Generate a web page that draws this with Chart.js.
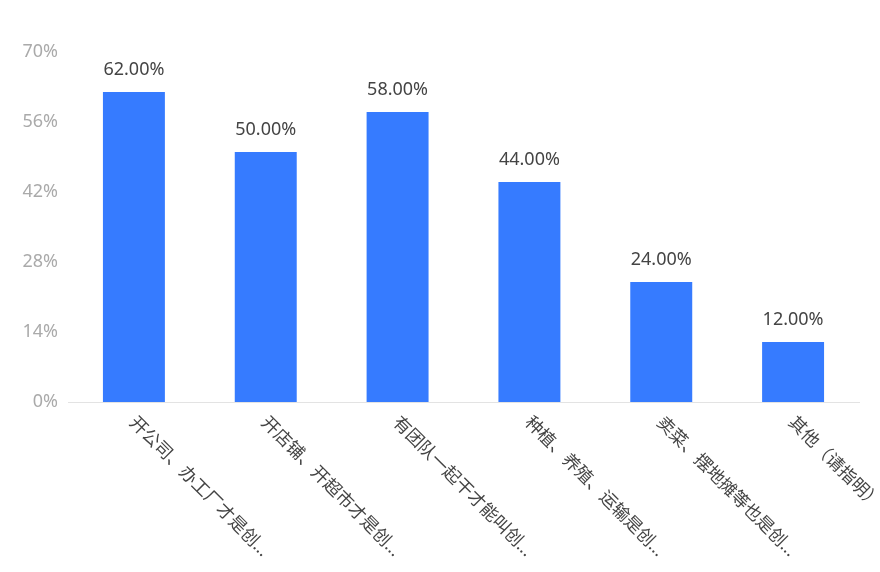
<!DOCTYPE html>
<html>
<head>
<meta charset="utf-8">
<script src="https://cdn.jsdelivr.net/npm/chart.js@4"></script>
<style>
  html, body { margin: 0; padding: 0; background: #fff; }
  #wrap { width: 880px; height: 572px; }
</style>
</head>
<body>
<div id="wrap"><canvas id="barChart"></canvas></div>
<script>
const categories = ['开公司、办工厂才是创...', '开店铺、开超市才是创...', '有团队一起干才能叫创...', '种植、养殖、运输是创...', '卖菜、摆地摊等也是创...', '其他（请指明）'];
const shares = [62, 50, 58, 44, 24, 12];
const yTicks = [0, 14, 28, 42, 56, 70];

const fontFamily = '"Noto Sans", "Noto Sans CJK SC", sans-serif';

// etiquetas do eixo x giradas 45° para baixo/direita
const slantLabels = {
    id: 'slantLabels',
    afterDraw(chart) {
        const ctx = chart.ctx;
        const x = chart.scales.x;
        const base = chart.chartArea.bottom;
        ctx.save();
        ctx.font = '17.5px ' + fontFamily;
        ctx.fillStyle = '#444';
        ctx.textAlign = 'left';
        ctx.textBaseline = 'middle';
        categories.forEach((c, i) => {
            ctx.save();
            ctx.translate(x.getPixelForValue(i) - 2, base + 18);
            ctx.rotate(Math.PI / 4);
            ctx.fillText(c, 0, 0);
            ctx.restore();
        });
        ctx.restore();
    }
};

// valores em cima das barras
const topValues = {
    id: 'topValues',
    afterDatasetsDraw(chart) {
        const ctx = chart.ctx;
        const meta = chart.getDatasetMeta(0);
        ctx.save();
        ctx.font = '18px ' + fontFamily;
        ctx.fillStyle = '#444';
        ctx.textAlign = 'center';
        ctx.textBaseline = 'bottom';
        meta.data.forEach((bar, i) => {
            ctx.fillText(shares[i].toFixed(2) + '%', bar.x, bar.y - 13);
        });
        ctx.restore();
    }
};

const ctx = document.getElementById('barChart').getContext('2d');
const barChart = new Chart(ctx, {
    type: 'bar',
    data: {
        labels: categories,
        datasets: [{
            data: shares,
            backgroundColor: '#367BFF',
            barPercentage: 0.47,
            categoryPercentage: 1
        }]
    },
    options: {
        responsive: true,
        maintainAspectRatio: false,
        animation: false,
        layout: { padding: { top: 52, right: 21, bottom: 162, left: 1 } },
        plugins: {
            legend: { display: false },
            tooltip: { enabled: false }
        },
        scales: {
            x: {
                grid: { display: false },
                border: { color: '#e3e3e3' },
                ticks: { display: false }
            },
            y: {
                min: 0,
                max: 70,
                afterBuildTicks(scale) {
                    scale.ticks = yTicks.map(v => ({ value: v }));
                },
                afterFit(scale) { scale.width = 67; },
                grid: { display: false },
                border: { display: false },
                ticks: {
                    color: '#aaa',
                    padding: 2,
                    font: { size: 18, family: fontFamily },
                    callback: v => v + '%'
                }
            }
        }
    },
    plugins: [slantLabels, topValues]
});
</script>
</body>
</html>
